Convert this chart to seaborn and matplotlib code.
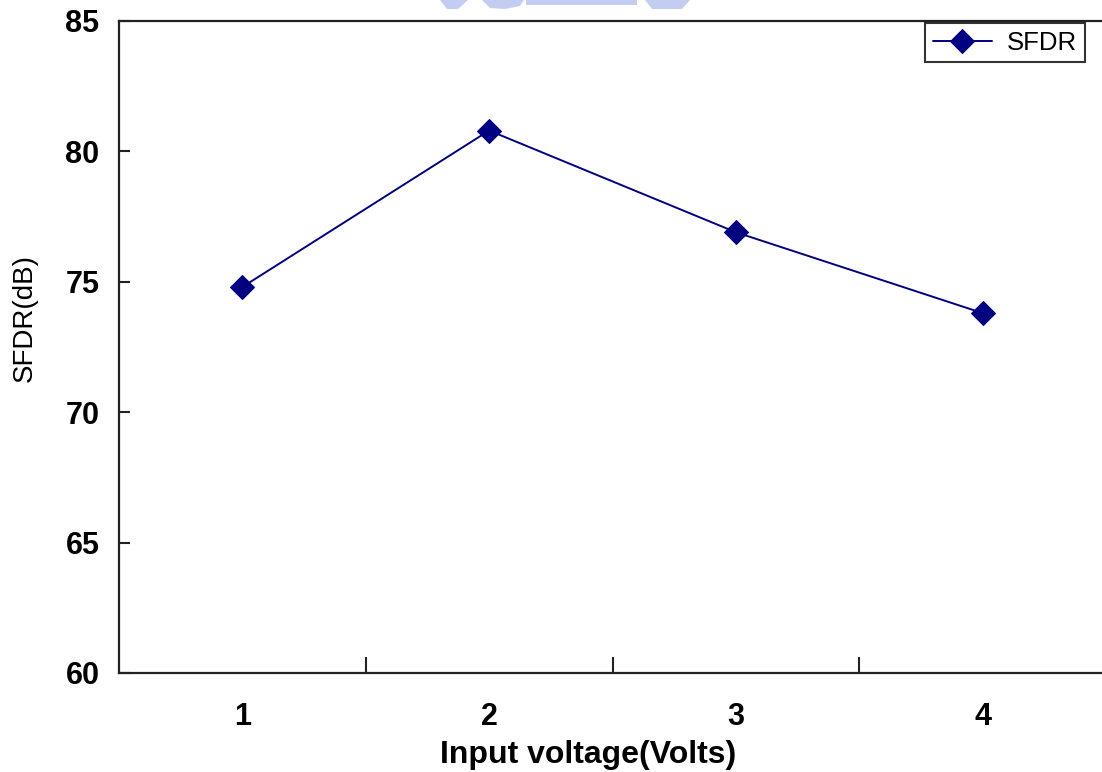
import matplotlib
matplotlib.use("Agg")
import matplotlib.pyplot as plt
from matplotlib.patches import Polygon
from matplotlib.ticker import FixedLocator
import seaborn as sns
import pandas as pd

# SFDR measured at each input voltage
voltages = ["1", "2", "3", "4"]
sfdr_db = [74.8, 80.8, 76.9, 73.8]
y_ticks = [60, 65, 70, 75, 80, 85]

sns.set_theme(style="white")
plt.rcParams["font.family"] = ["Liberation Sans", "DejaVu Sans"]
plt.rcParams["text.color"] = "black"
plt.rcParams["xtick.color"] = "black"
plt.rcParams["ytick.color"] = "black"
plt.rcParams["axes.labelcolor"] = "black"

W, H = 1102, 772
fig = plt.figure(figsize=(W / 100, H / 100), dpi=100, facecolor="white")

def fx(px):
    return px / W

def fy(py):
    return 1 - py / H

# plot area (right side runs past the canvas edge)
left, right, top, bottom = 119, 1106, 21, 673
ax = fig.add_axes([fx(left), fy(bottom), fx(right - left), (bottom - top) / H])

df = pd.DataFrame({"Input voltage": voltages, "SFDR": sfdr_db})
sns.lineplot(data=df, x="Input voltage", y="SFDR", ax=ax, color="#000080",
             linewidth=1.4, marker="D", markersize=12.5, markeredgecolor="#000080",
             markerfacecolor="#000080", label="SFDR", sort=False)

ax.set_xlim(-0.5, len(voltages) - 0.5)
ax.set_ylim(60, 85)
ax.set_yticks(y_ticks)
ax.set_xticks(range(len(voltages)))
ax.set_xticklabels(voltages)
ax.xaxis.set_minor_locator(FixedLocator([i + 0.5 for i in range(len(voltages) - 1)]))

ax.tick_params(axis="x", which="major", length=0, pad=21, labelsize=22)
ax.tick_params(axis="x", which="minor", direction="in", length=11.5, width=1.5,
               color="#222222", bottom=True)
ax.tick_params(axis="y", which="major", direction="in", length=8, width=1.5,
               color="#222222", left=True, pad=14, labelsize=22)
for lab in ax.get_xticklabels() + ax.get_yticklabels():
    lab.set_fontweight("bold")

for side in ["left", "bottom", "top"]:
    ax.spines[side].set_visible(True)
    ax.spines[side].set_color("#222222")
    ax.spines[side].set_linewidth(1.6)
ax.spines["right"].set_visible(False)

ax.set_xlabel("Input voltage(Volts)", fontsize=23, fontweight="bold")
ax.xaxis.set_label_coords(0.475, -0.103)
ax.set_ylabel("SFDR(dB)", fontsize=20)
ax.yaxis.set_label_coords(-0.082, 0.544)

leg = ax.legend(loc="upper left", bbox_to_anchor=(fx(925), fy(23)),
                bbox_transform=fig.transFigure, fontsize=18.5, frameon=True,
                fancybox=False, borderpad=0.3, handlelength=2.3,
                handletextpad=0.6, borderaxespad=0)
leg.get_frame().set_edgecolor("black")
leg.get_frame().set_linewidth(1.5)

# faint emblem peeking in at the top edge
wm = "#a9b9ec"
shapes = [
    [(440, 0), (468, 0), (458, 9), (447, 9)],
    [(482, 0), (524, 0), (520, 6), (505, 9), (490, 8)],
    [(526, 0), (637, 0), (637, 5), (526, 5)],
    [(645, 0), (690, 0), (682, 9), (652, 9)],
]
for pts in shapes:
    fig.add_artist(Polygon([(fx(x), fy(y)) for x, y in pts], closed=True,
                           transform=fig.transFigure, facecolor=wm,
                           edgecolor="none", alpha=0.7))

fig.savefig("out.png", dpi=100, facecolor="white")
